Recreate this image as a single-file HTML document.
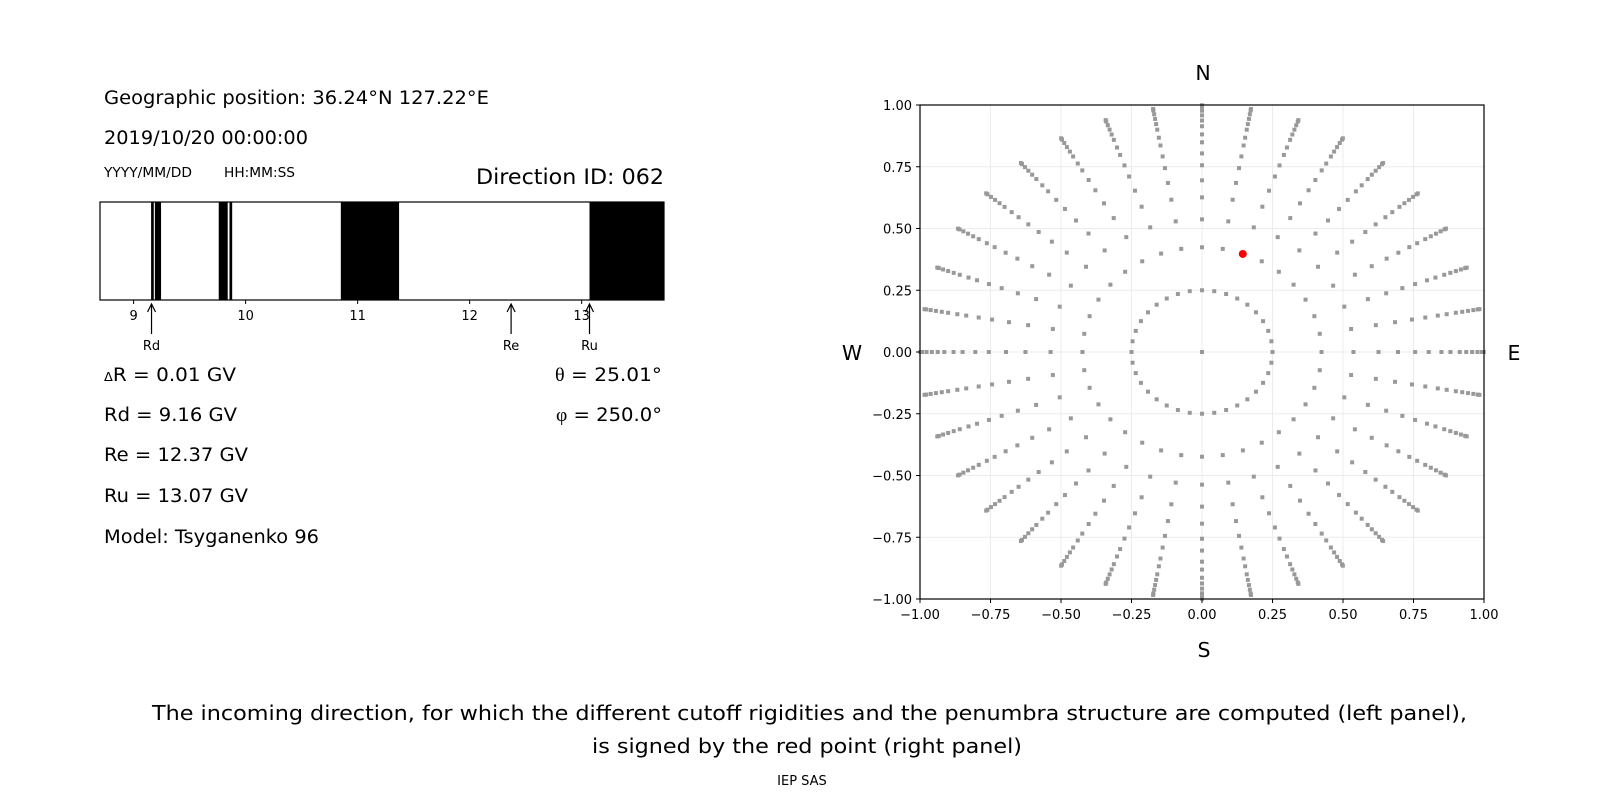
<!DOCTYPE html>
<html><head><meta charset="utf-8"><style>
body{margin:0;background:#fff;}
svg{display:block;font-family:"DejaVu Sans","Liberation Sans",sans-serif;}
</style></head><body>
<svg id="fig" width="1600" height="800" viewBox="0 0 1600 800" xmlns="http://www.w3.org/2000/svg">
<g font-size="18.5" fill="#000">
<text x="104" y="104" textLength="385" lengthAdjust="spacingAndGlyphs">Geographic position: 36.24°N 127.22°E</text>
<text x="104" y="144" textLength="204" lengthAdjust="spacingAndGlyphs">2019/10/20 00:00:00</text>
<text x="104" y="177" font-size="13" textLength="88" lengthAdjust="spacingAndGlyphs">YYYY/MM/DD</text>
<text x="224" y="177" font-size="13" textLength="71" lengthAdjust="spacingAndGlyphs">HH:MM:SS</text>
<text x="476" y="184" font-size="21" textLength="188" lengthAdjust="spacingAndGlyphs">Direction ID: 062</text>
<text x="104" y="381" textLength="132" lengthAdjust="spacingAndGlyphs"><tspan font-size="12">Δ</tspan>R = 0.01 GV</text>
<text x="104" y="421" textLength="133" lengthAdjust="spacingAndGlyphs">Rd = 9.16 GV</text>
<text x="104" y="461" textLength="144" lengthAdjust="spacingAndGlyphs">Re = 12.37 GV</text>
<text x="104" y="502" textLength="144" lengthAdjust="spacingAndGlyphs">Ru = 13.07 GV</text>
<text x="104" y="543" textLength="215" lengthAdjust="spacingAndGlyphs">Model: Tsyganenko 96</text>
<text x="555" y="381" textLength="107" lengthAdjust="spacingAndGlyphs"><tspan font-family="Liberation Serif,serif">θ</tspan> = 25.01°</text>
<text x="556" y="421" textLength="106" lengthAdjust="spacingAndGlyphs"><tspan font-family="Liberation Serif,serif">φ</tspan> = 250.0°</text>
</g>
<g id="bar"></g>
<g id="scatter"></g>
<g font-size="20.5">
<text x="1203" y="80" text-anchor="middle">N</text>
<text x="1204" y="657" text-anchor="middle">S</text>
<text x="852" y="360" text-anchor="middle">W</text>
<text x="1514" y="360" text-anchor="middle">E</text>
</g>
<g font-size="20.5">
<text x="152" y="720" textLength="1315" lengthAdjust="spacingAndGlyphs">The incoming direction, for which the different cutoff rigidities and the penumbra structure are computed (left panel),</text>
<text x="592" y="753" textLength="430" lengthAdjust="spacingAndGlyphs">is signed by the red point (right panel)</text>
<text x="802" y="785" font-size="13" text-anchor="middle">IEP SAS</text>
</g>
</svg>
<script>
const NS="http://www.w3.org/2000/svg";
// penumbra data
const bandStarts=[9.156,9.19,9.76,9.856,10.85,13.07];
const bandEnds=[9.18,9.245,9.84,9.88,11.37,13.80];
const barTicks=[9,10,11,12,13];
const markerNames=["Rd","Re","Ru"];
const markerValues=[9.16,12.37,13.07];
// scatter data
const azimuthsDeg=[0,10,20,30,40,50,60,70,80,90,100,110,120,130,140,150,160,170,180,190,200,210,220,230,240,250,260,270,280,290,300,310,320,330,340,350];
const ringRadii=[0.25,0.424,0.537,0.626,0.695,0.756,0.804,0.849,0.881,0.914,0.937,0.958,0.977,0.993,0.999];
const redX=[0.1446];
const redY=[0.397];
const axisTicks=[-1,-0.75,-0.5,-0.25,0,0.25,0.5,0.75,1];

function mk(tag,attrs,parent){const e=document.createElementNS(NS,tag);for(const k in attrs)e.setAttribute(k,attrs[k]);parent.appendChild(e);return e;}

// bar axis
const B={x0:100,x1:664,y0:202,y1:300,d0:8.70,d1:13.735};
const bx=v=>B.x0+(v-B.d0)/(B.d1-B.d0)*(B.x1-B.x0);
const bar=document.getElementById('bar');
for(let i=0;i<bandStarts.length;i++){
  const r=mk('rect',{x:bx(bandStarts[i]),y:B.y0,width:Math.min(bx(bandEnds[i]),B.x1)-bx(bandStarts[i]),height:B.y1-B.y0,fill:'#000'},bar);
  
  
}
const fr=mk('rect',{x:B.x0,y:B.y0,width:B.x1-B.x0,height:B.y1-B.y0,fill:'none',stroke:'#000','stroke-width':1.2},bar);


barTicks.forEach(t=>{
  mk('line',{x1:bx(t),x2:bx(t),y1:B.y1,y2:B.y1+4,stroke:'#000'},bar);
  const tx=mk('text',{x:bx(t),y:B.y1+20,'text-anchor':'middle','font-size':13},bar);
  tx.textContent=t;
  
  
});
markerNames.forEach((n,i)=>{
  const x=bx(markerValues[i]);
  mk('line',{x1:x,x2:x,y1:304,y2:334,stroke:'#000','stroke-width':1.2},bar);
  mk('path',{d:`M${x-4},${312} L${x},${304} L${x+4},${312}`,fill:'none',stroke:'#000','stroke-width':1.2},bar);
  const tx=mk('text',{x:x,y:350,'text-anchor':'middle','font-size':13},bar);
  tx.textContent=n;
  
  
});

// scatter axes
const S={x0:920,x1:1484,y0:105,y1:599};
const sx=v=>S.x0+(v+1)/2*(S.x1-S.x0);
const sy=v=>S.y1-(v+1)/2*(S.y1-S.y0);
const sc=document.getElementById('scatter');
axisTicks.forEach(t=>{
  mk('line',{x1:sx(t),x2:sx(t),y1:S.y0,y2:S.y1,stroke:'#ececec','stroke-width':1},sc);
  mk('line',{x1:S.x0,x2:S.x1,y1:sy(t),y2:sy(t),stroke:'#ececec','stroke-width':1},sc);
});
const pts=mk('g',{fill:'#999'},sc);


mk('rect',{x:sx(0)-2,y:sy(0)-2,width:4,height:4},pts);
azimuthsDeg.forEach(a=>{
  const ar=a*Math.PI/180;
  ringRadii.forEach(r=>{
    mk('rect',{x:sx(r*Math.sin(ar))-2,y:sy(r*Math.cos(ar))-2,width:4,height:4},pts);
  });
});
redX.forEach((x,i)=>{
  const c=mk('circle',{cx:sx(x),cy:sy(redY[i]),r:4,fill:'#ff0000'},sc);
  
  
});
const sf=mk('rect',{x:S.x0,y:S.y0,width:S.x1-S.x0,height:S.y1-S.y0,fill:'none',stroke:'#000','stroke-width':1.2},sc);


axisTicks.forEach(t=>{
  const lab=t.toFixed(2).replace('-','−');
  mk('line',{x1:sx(t),x2:sx(t),y1:S.y1,y2:S.y1+4,stroke:'#000'},sc);
  const a=mk('text',{x:sx(t),y:S.y1+20,'text-anchor':'middle','font-size':13},sc);
  a.textContent=lab;
  
  
  mk('line',{x1:S.x0-4,x2:S.x0,y1:sy(t),y2:sy(t),stroke:'#000'},sc);
  const b=mk('text',{x:S.x0-8,y:sy(t)+5,'text-anchor':'end','font-size':13},sc);
  b.textContent=lab;
  
  
});
</script>
</body></html>
